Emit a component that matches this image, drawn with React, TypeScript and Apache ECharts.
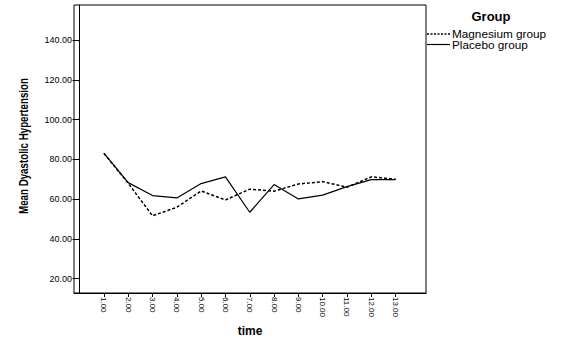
import React, { useEffect, useRef } from "react";
import * as echarts from "echarts";

const timePoints = [1, 2, 3, 4, 5, 6, 7, 8, 9, 10, 11, 12, 13];
const magnesium = [83.0, 68.0, 51.6, 55.9, 64.1, 59.6, 65.0, 64.0, 67.6, 68.8, 66.0, 71.2, 70.0];
const placebo = [83.1, 68.3, 61.8, 60.6, 67.8, 71.2, 53.4, 67.3, 60.1, 62.0, 66.3, 69.8, 69.8];
const yTicks = [20, 40, 60, 80, 100, 120, 140];
const seriesNames = ["Magnesium group", "Placebo group"];
const legendTitle = "Group";
const yTitle = "Mean Dyastolic Hypertension";
const xTitle = "time";

export default function App() {
  const ref = useRef<HTMLDivElement>(null);
  useEffect(() => {
    if (!ref.current) return;
    const chart = echarts.init(ref.current, null, { renderer: "svg" });
    const font = "Liberation Sans, Arial, sans-serif";
    const legendText = (text: string, y: number) => ({
      type: "text",
      x: 452,
      y,
      scaleX: 1.07,
      style: {
        text,
        fontFamily: font,
        fontSize: 11,
        lineHeight: 10,
        fill: "#000",
        align: "left",
        verticalAlign: "middle",
      },
    });
    chart.setOption({
      animation: false,
      backgroundColor: "#ffffff",
      grid: {
        left: 74,
        top: 5,
        right: 144,
        bottom: 59,
        show: true,
        borderColor: "#000",
        borderWidth: 1,
        backgroundColor: "transparent",
      },
      graphic: [
        {
          type: "text",
          x: 23,
          y: 146,
          rotation: Math.PI / 2,
          scaleX: 0.75,
          style: {
            text: yTitle,
            fontFamily: font,
            fontSize: 13,
            fontWeight: "bold",
            fill: "#000",
            align: "center",
            verticalAlign: "middle",
          },
        },
        {
          type: "text",
          x: 491,
          y: 16,
          style: {
            text: legendTitle,
            fontFamily: font,
            fontSize: 13,
            fontWeight: "bold",
            fill: "#000",
            align: "center",
            verticalAlign: "middle",
          },
        },
        {
          type: "line",
          shape: { x1: 427, y1: 34, x2: 450, y2: 34 },
          style: { stroke: "#000", lineWidth: 1.5, lineDash: [2, 1.5] },
        },
        legendText(seriesNames[0], 34),
        {
          type: "line",
          shape: { x1: 427, y1: 44.5, x2: 450, y2: 44.5 },
          style: { stroke: "#000", lineWidth: 1.2 },
        },
        legendText(seriesNames[1], 45),
      ],
      xAxis: {
        type: "value",
        min: -0.23,
        max: 14.25,
        name: xTitle,
        nameLocation: "middle",
        nameGap: 29,
        nameTextStyle: { fontFamily: font, fontSize: 12, fontWeight: "bold", color: "#000" },
        axisLine: { show: true, onZero: false, lineStyle: { color: "#000", width: 1 } },
        axisTick: { show: true, length: 4, lineStyle: { color: "#000" }, customValues: timePoints },
        axisLabel: {
          customValues: timePoints,
          rotate: -90,
          margin: 4,
          fontFamily: font,
          fontSize: 8,
          color: "#000",
          formatter: (v: number) => v.toFixed(2),
        },
        splitLine: { show: false },
      },
      yAxis: {
        type: "value",
        min: 12.8,
        max: 157.6,
        axisLine: { show: true, lineStyle: { color: "#000", width: 1 } },
        axisTick: { show: true, length: 7, lineStyle: { color: "#000" }, customValues: yTicks },
        axisLabel: {
          customValues: yTicks,
          margin: 2,
          fontFamily: font,
          fontSize: 9,
          color: "#000",
          formatter: (v: number) => v.toFixed(2),
        },
        splitLine: { show: false },
      },
      series: [
        {
          name: seriesNames[0],
          type: "line",
          data: timePoints.map((t, i) => [t, magnesium[i]]),
          showSymbol: false,
          symbol: "none",
          itemStyle: { color: "#000" },
          lineStyle: { color: "#000", width: 1.5, type: [3, 2] },
        },
        {
          name: seriesNames[1],
          type: "line",
          data: timePoints.map((t, i) => [t, placebo[i]]),
          showSymbol: false,
          symbol: "none",
          itemStyle: { color: "#000" },
          lineStyle: { color: "#000", width: 1.2, type: "solid" },
        },
      ],
    });
    return () => chart.dispose();
  }, []);
  return <div ref={ref} style={{ width: 570, height: 352, position: "absolute", left: 0, top: 0 }} />;
}
